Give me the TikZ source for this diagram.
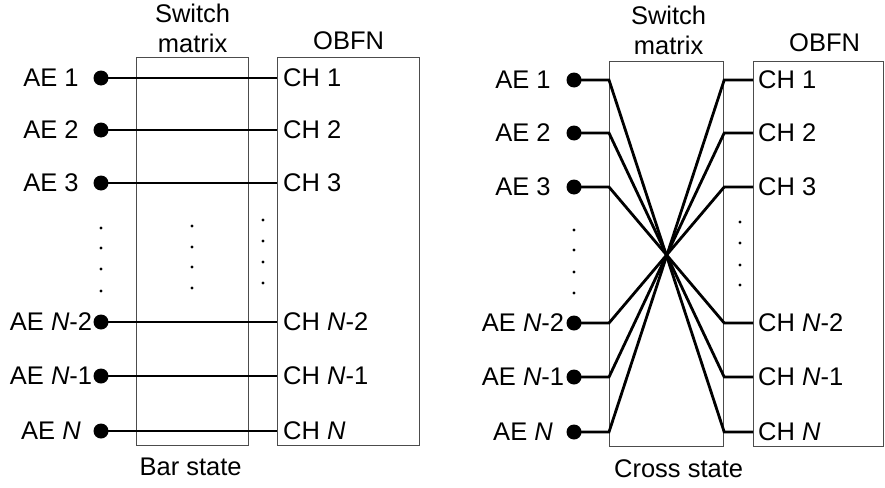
\documentclass[tikz,border=0pt]{standalone}
\usepackage{fontspec}
\setmainfont{Liberation Sans}
\usetikzlibrary{positioning}

\begin{document}
\begin{tikzpicture}[
  x=1pt, y=-1pt,
  swbox/.style={rectangle, draw=black!70, line width=1.2pt, inner sep=0pt, anchor=north west},
  wire/.style={line width=2.8pt},
  aedot/.style={circle, fill=black, inner sep=0pt, minimum size=15pt},
  portlabel/.style={font=\fontsize{25.5}{30}\selectfont, inner sep=0pt},
  boxtitle/.style={font=\fontsize{25.5}{30}\selectfont, inner sep=0pt, align=center}
]
\useasboundingbox (0,0) rectangle (885,487);

% -------- LEFT PANEL: BAR STATE --------
\node[swbox, minimum width=112pt, minimum height=388pt] (swL) at (136,57) {};
\node[swbox, minimum width=142pt, minimum height=388pt] (obL) at (277,57) {};
\node[boxtitle, above=4pt of swL] (swLtitle) {Switch\\matrix};
\node[boxtitle, above=7pt of obL] (obLtitle) {OBFN};
\node[boxtitle, below=12pt of swL, xshift=-2pt] (barstate) {Bar state};

\foreach \i/\y/\t in {1/78/1, 2/130/2, 3/183/3, 4/322/\textit{N}-2, 5/376/\textit{N}-1, 6/431/\textit{N}} {
  \node[aedot] (aeL\i) at (101,\y) {};
  \node[portlabel] (aeLlab\i) at (51,\y) {AE \t};
  \node[portlabel, anchor=west] (chL\i) at (283,\y) {CH \t};
  \draw[wire] (aeL\i.center) -- (aeL\i -| obL.west);
}

% ellipsis dots
\foreach \y in {228,248,269,291} \fill (101,\y) circle (1.7pt);
\foreach \y in {226,247,267,288} \fill (192,\y) circle (1.7pt);
\foreach \y in {220,241,262,283} \fill (263,\y) circle (1.7pt);

% -------- RIGHT PANEL: CROSS STATE --------
\node[swbox, minimum width=114pt, minimum height=385pt] (swR) at (609,61) {};
\node[swbox, minimum width=130pt, minimum height=385pt] (obR) at (753,61) {};
\node[boxtitle, above=6pt of swR, xshift=2pt] (swRtitle) {Switch\\matrix};
\node[boxtitle, above=9pt of obR, xshift=6pt] (obRtitle) {OBFN};
\node[boxtitle, below=12pt of swR, xshift=12pt] (crossstate) {Cross state};

\foreach \i/\y/\t in {1/80/1, 2/133/2, 3/187/3, 4/323/\textit{N}-2, 5/377/\textit{N}-1, 6/432/\textit{N}} {
  \node[aedot] (aeR\i) at (574,\y) {};
  \node[portlabel] (aeRlab\i) at (523,\y) {AE \t};
  \node[portlabel, anchor=west] (chR\i) at (758,\y) {CH \t};
}

% crossed wires
\foreach \i/\j in {1/6, 2/5, 3/4, 4/3, 5/2, 6/1}
  \draw[wire] (aeR\i.center) -- (aeR\i -| swR.west) -- (chR\j -| swR.east) -- (chR\j -| obR.west);

% ellipsis dots
\foreach \y in {230,250,272,293} \fill (574,\y) circle (1.7pt);
\foreach \y in {222,243,265,285} \fill (740,\y) circle (1.7pt);

\end{tikzpicture}
\end{document}
